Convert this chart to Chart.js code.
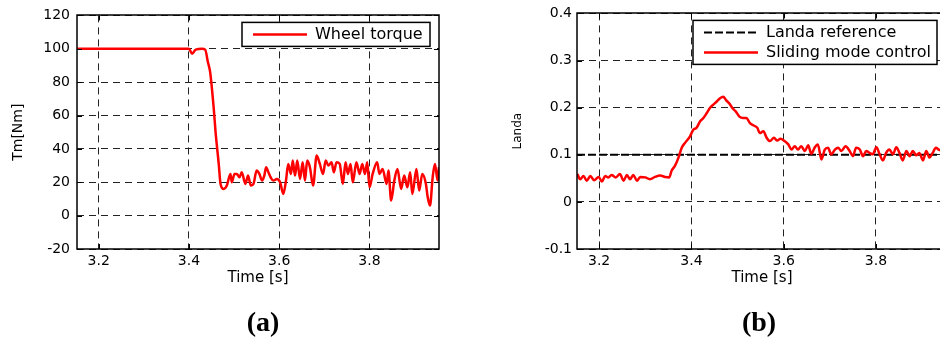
<!DOCTYPE html>
<html>
<head>
<meta charset="utf-8">
<script src="https://cdn.jsdelivr.net/npm/chart.js@4.4.1/dist/chart.umd.min.js"></script>
<style>
  html, body { margin: 0; padding: 0; background: #fff; overflow: hidden; }
  #page { position: relative; width: 940px; height: 340px; overflow: hidden; }
  #boxA { position: absolute; left: 0; top: 0; width: 470px; height: 340px; }
  #boxB { position: absolute; left: 470px; top: 0; width: 490px; height: 340px; }
  .cap { position: absolute; top: 308px; font: bold 28px "Liberation Serif", serif; line-height: 1; transform: translateX(-50%); }
</style>
</head>
<body>
<div id="page">
  <div id="boxA"><canvas id="torqueChart"></canvas></div>
  <div id="boxB"><canvas id="landaChart"></canvas></div>
  <div class="cap" style="left:263px">(a)</div>
  <div class="cap" style="left:759px">(b)</div>
</div>
<script>
// axis ticks
const timeTicks = [3.2, 3.4, 3.6, 3.8];
const torqueTicks = [-20, 0, 20, 40, 60, 80, 100, 120];
const landaTicks = [-0.1, 0, 0.1, 0.2, 0.3, 0.4];

// (a) wheel torque
const torqueTime = [3.152, 3.400, 3.407, 3.415, 3.429, 3.436, 3.442, 3.447, 3.455, 3.459, 3.466, 3.470, 3.477, 3.484,
  3.492, 3.495, 3.501, 3.506, 3.512, 3.517, 3.525, 3.531, 3.537, 3.543, 3.550, 3.556, 3.562, 3.567, 3.571, 3.576,
  3.581, 3.587, 3.595, 3.602, 3.609, 3.615, 3.620, 3.626, 3.630, 3.635, 3.640, 3.646, 3.652, 3.657, 3.662, 3.668,
  3.675, 3.683, 3.690, 3.697, 3.703, 3.709, 3.716, 3.721, 3.727, 3.734, 3.741, 3.747, 3.752, 3.758, 3.763, 3.771,
  3.778, 3.784, 3.790, 3.795, 3.800, 3.807, 3.817, 3.822, 3.829, 3.838, 3.842, 3.848, 3.855, 3.862, 3.870, 3.877,
  3.884, 3.890, 3.895, 3.904, 3.910, 3.917, 3.925, 3.929, 3.934, 3.940, 3.945, 3.951, 3.954];
const torqueValue = [100, 100, 97, 99.5, 100, 99.5, 92, 86, 64, 50, 31, 19, 16, 18,
  25, 20, 25, 25, 23, 26, 19, 24, 18, 19, 27, 25, 21, 24, 29, 26,
  23, 21, 22, 20, 13, 21, 31, 25, 33, 24, 33, 22, 32, 21, 33, 29,
  18, 36, 31, 25, 33, 30, 32, 26, 32, 31, 19, 32, 25, 31, 20, 32,
  25, 31, 25, 32, 17, 25, 32, 25, 28, 19, 27, 9, 21, 28, 16, 24,
  17, 26, 13, 28, 15, 25, 19, 11, 6, 23, 31, 21, 29];

// (b) landa, reference and sliding mode control
const refTime = [3.152, 3.954];
const refValue = [0.1, 0.1];
const smcTime = [3.153, 3.159, 3.166, 3.173, 3.181, 3.189, 3.199, 3.206, 3.213, 3.220, 3.227, 3.236, 3.245, 3.253,
  3.260, 3.267, 3.274, 3.282, 3.289, 3.300, 3.310, 3.321, 3.332, 3.343, 3.352, 3.357, 3.364, 3.372, 3.379, 3.386,
  3.397, 3.404, 3.411, 3.419, 3.426, 3.433, 3.440, 3.447, 3.455, 3.462, 3.469, 3.475, 3.482, 3.489, 3.496, 3.504,
  3.512, 3.519, 3.527, 3.535, 3.543, 3.548, 3.556, 3.563, 3.570, 3.579, 3.586, 3.593, 3.602, 3.610, 3.617, 3.624,
  3.631, 3.638, 3.646, 3.653, 3.660, 3.667, 3.674, 3.682, 3.689, 3.696, 3.703, 3.711, 3.718, 3.725, 3.734, 3.743,
  3.750, 3.757, 3.765, 3.772, 3.779, 3.786, 3.793, 3.801, 3.808, 3.815, 3.822, 3.829, 3.837, 3.844, 3.851, 3.858,
  3.866, 3.873, 3.880, 3.887, 3.894, 3.902, 3.909, 3.916, 3.923, 3.930, 3.936, 3.954];
const smcValue = [0.059, 0.048, 0.055, 0.045, 0.055, 0.046, 0.053, 0.043, 0.055, 0.052, 0.057, 0.052, 0.059, 0.045,
  0.057, 0.048, 0.057, 0.045, 0.053, 0.052, 0.048, 0.053, 0.056, 0.053, 0.052, 0.066, 0.076, 0.094, 0.115, 0.125,
  0.139, 0.153, 0.157, 0.171, 0.178, 0.188, 0.199, 0.206, 0.213, 0.220, 0.223, 0.216, 0.209, 0.199, 0.192, 0.181,
  0.178, 0.178, 0.167, 0.162, 0.157, 0.146, 0.150, 0.136, 0.129, 0.136, 0.130, 0.134, 0.129, 0.122, 0.111, 0.118,
  0.111, 0.118, 0.108, 0.120, 0.102, 0.115, 0.122, 0.090, 0.111, 0.115, 0.101, 0.111, 0.115, 0.108, 0.118, 0.108,
  0.097, 0.115, 0.111, 0.097, 0.108, 0.104, 0.101, 0.116, 0.101, 0.088, 0.104, 0.111, 0.101, 0.116, 0.104, 0.088,
  0.108, 0.097, 0.108, 0.099, 0.104, 0.088, 0.108, 0.094, 0.104, 0.115, 0.111, 0.105];

Chart.defaults.font.family = "'DejaVu Sans', sans-serif";
Chart.defaults.color = '#000';

function toPoints(xs, ys) {
  return xs.map((x, i) => ({ x: x, y: ys[i] }));
}

// axes box, inward tick marks and an in-plot legend, MATLAB style
const matlabFrame = {
  id: 'matlabFrame',
  afterDatasetsDraw(chart, args, opts) {
    const { ctx, chartArea: a, scales } = chart;
    ctx.save();
    ctx.strokeStyle = '#000';
    ctx.lineWidth = 1;
    ctx.setLineDash([]);
    ctx.beginPath();
    scales.x.ticks.forEach(t => {
      const px = Math.round(scales.x.getPixelForValue(t.value)) + 0.5;
      ctx.moveTo(px, a.bottom); ctx.lineTo(px, a.bottom - 5);
      ctx.moveTo(px, a.top); ctx.lineTo(px, a.top + 5);
    });
    scales.y.ticks.forEach(t => {
      const py = Math.round(scales.y.getPixelForValue(t.value)) + 0.5;
      ctx.moveTo(a.left, py); ctx.lineTo(a.left + 5, py);
      ctx.moveTo(a.right, py); ctx.lineTo(a.right - 5, py);
    });
    ctx.stroke();
    ctx.lineWidth = 1.5;
    ctx.strokeRect(Math.round(a.left), Math.round(a.top), Math.round(a.width), Math.round(a.height));

    // legend
    const L = opts.legend;
    const bx = a.left + L.left, by = a.top + L.top;
    ctx.fillStyle = '#fff';
    ctx.fillRect(bx, by, L.width, L.height);
    ctx.strokeRect(bx, by, L.width, L.height);
    ctx.font = "16px 'DejaVu Sans', sans-serif";
    ctx.textBaseline = 'middle';
    chart.data.datasets.forEach((ds, i) => {
      const cy = by + L.firstRow + i * L.rowGap;
      ctx.strokeStyle = ds.borderColor;
      ctx.lineWidth = ds.borderWidth;
      ctx.setLineDash(ds.borderDash || []);
      ctx.beginPath();
      ctx.moveTo(bx + 11, cy); ctx.lineTo(bx + 65, cy);
      ctx.stroke();
      ctx.setLineDash([]);
      ctx.fillStyle = '#000';
      ctx.fillText(ds.label, bx + 73, cy);
    });
    ctx.restore();
  }
};

function makeChart(canvasId, datasets, cfg) {
  const ctx = document.getElementById(canvasId).getContext('2d');
  return new Chart(ctx, {
    type: 'line',
    data: { datasets: datasets },
    plugins: [matlabFrame],
    options: {
      responsive: true,
      maintainAspectRatio: false,
      animation: false,
      layout: { padding: { left: 0, top: cfg.top, right: cfg.right, bottom: 51 } },
      elements: { point: { radius: 0 }, line: { cubicInterpolationMode: 'monotone' } },
      plugins: {
        legend: { display: false },
        tooltip: { enabled: false },
        matlabFrame: { legend: cfg.legend }
      },
      scales: {
        x: {
          type: 'linear',
          min: 3.152,
          max: 3.954,
          afterBuildTicks: s => { s.ticks = timeTicks.map(v => ({ value: v })); },
          afterFit: s => { s.height = 40; },
          ticks: { font: { size: 14 }, padding: 4, callback: v => String(v) },
          grid: { color: '#222', lineWidth: 1, drawTicks: false },
          border: { display: false, dash: [7, 5] },
          title: { display: true, text: 'Time [s]', font: { size: 15 }, padding: { top: 0, bottom: 2 } }
        },
        y: {
          type: 'linear',
          min: cfg.yTicks[0],
          max: cfg.yTicks[cfg.yTicks.length - 1],
          afterBuildTicks: s => { s.ticks = cfg.yTicks.map(v => ({ value: v })); },
          afterFit: s => { s.width = cfg.yWidth; },
          ticks: { font: { size: 14 }, padding: cfg.tickPad, callback: v => String(v) },
          grid: { color: '#222', lineWidth: 1, drawTicks: false },
          border: { display: false, dash: [7, 5] },
          title: { display: true, text: cfg.yTitle, font: { size: cfg.yTitleSize }, padding: { top: cfg.yTitlePad, bottom: 0 } }
        }
      }
    }
  });
}

makeChart('torqueChart', [{
  label: 'Wheel torque',
  data: toPoints(torqueTime, torqueValue),
  borderColor: '#ff0000',
  borderWidth: 2.5
}], {
  top: 14, right: 31, yWidth: 77, tickPad: 7,
  yTicks: torqueTicks, yTitle: 'Tm[Nm]', yTitleSize: 14, yTitlePad: 10,
  legend: { left: 165, top: 7, width: 188, height: 24, firstRow: 12, rowGap: 20 }
});

makeChart('landaChart', [{
  label: 'Landa reference',
  data: toPoints(refTime, refValue),
  borderColor: '#000000',
  borderWidth: 2,
  borderDash: [8, 3],
  order: 1
}, {
  label: 'Sliding mode control',
  data: toPoints(smcTime, smcValue),
  borderColor: '#ff0000',
  borderWidth: 2.5,
  order: 0
}], {
  top: 11, right: 13, yWidth: 107, tickPad: 5,
  yTicks: landaTicks, yTitle: 'Landa', yTitleSize: 12, yTitlePad: 41,
  legend: { left: 116, top: 7, width: 244, height: 44, firstRow: 12, rowGap: 20 }
});
</script>
</body>
</html>
